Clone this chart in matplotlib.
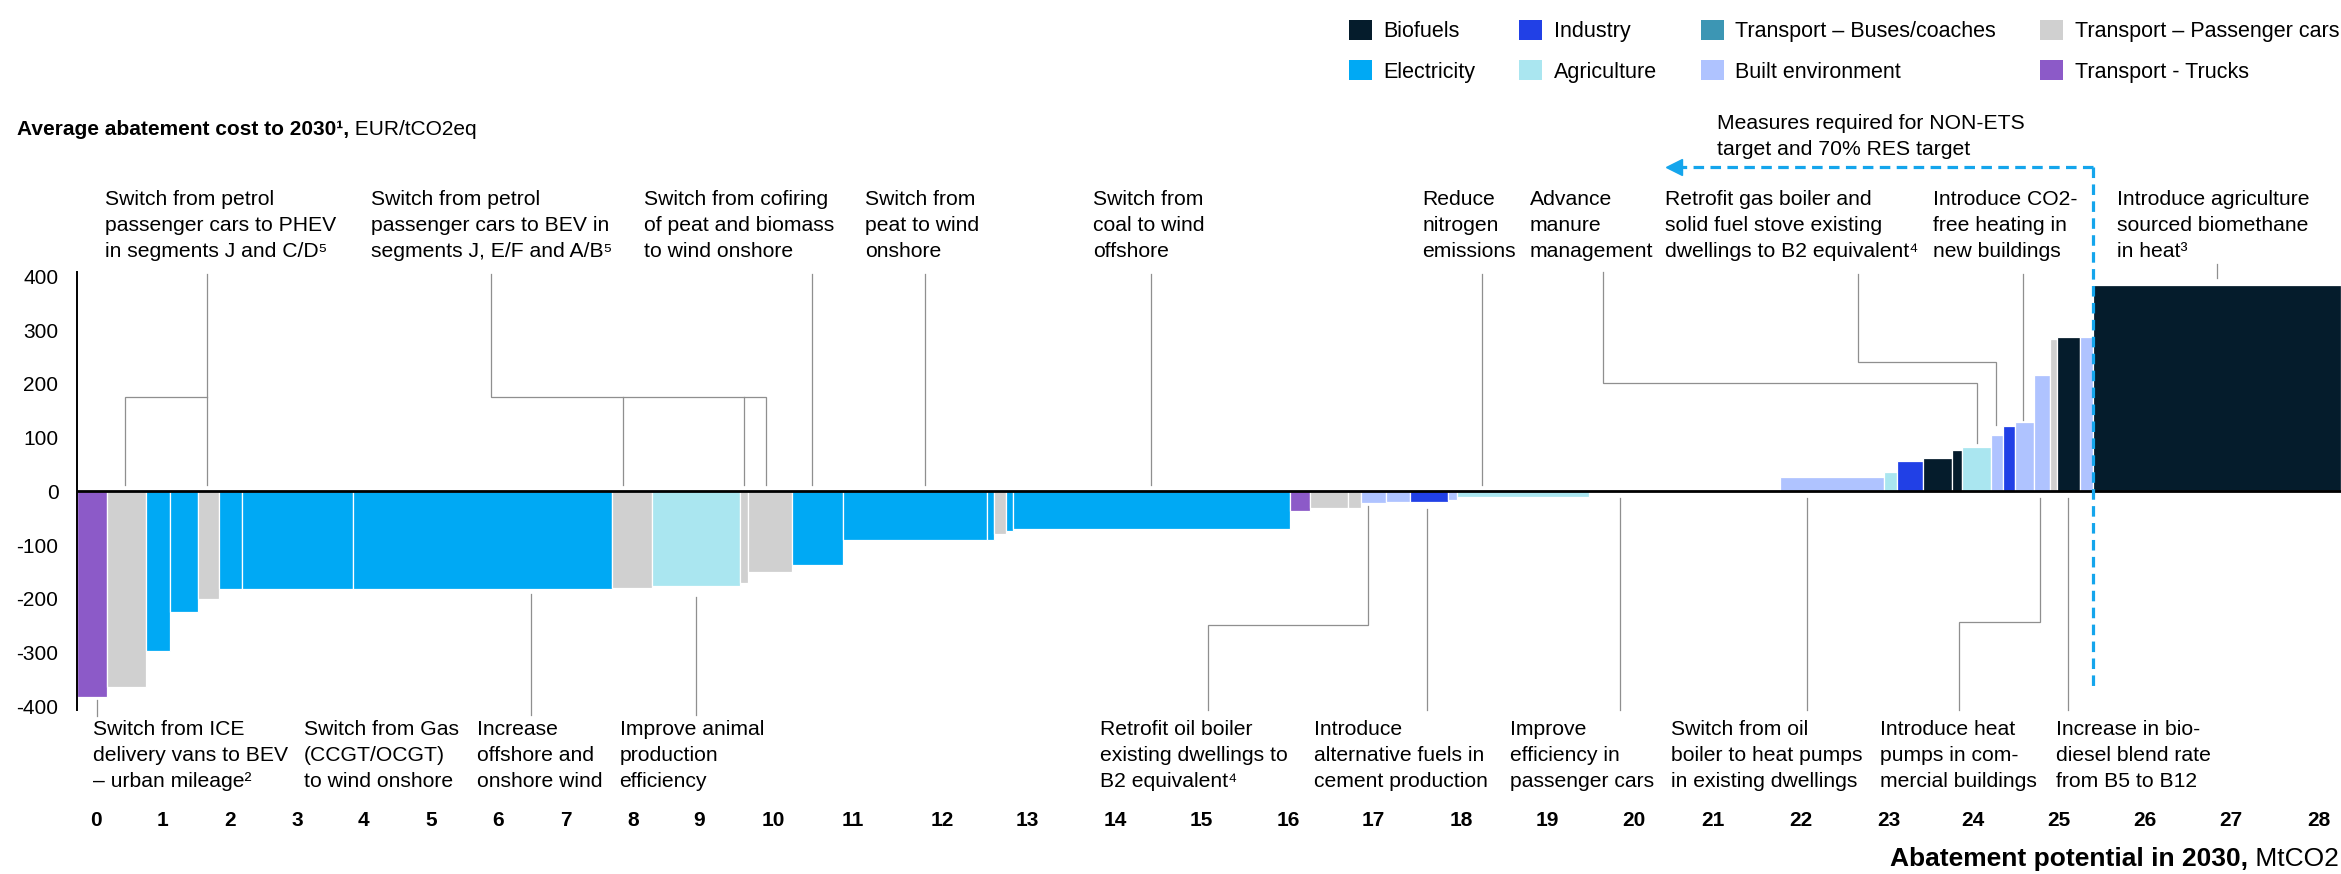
import numpy as np
import matplotlib
matplotlib.use("Agg")
import matplotlib.pyplot as plt
from matplotlib.patches import Patch
from matplotlib.font_manager import FontProperties

FONT = ['Liberation Sans', 'DejaVu Sans']
plt.rcParams['font.family'] = FONT
plt.rcParams['axes.unicode_minus'] = False

# ---------------- data ----------------
sector_names = {
    'BF': 'Biofuels', 'EL': 'Electricity', 'IN': 'Industry', 'AG': 'Agriculture',
    'BU': 'Transport – Buses/coaches', 'BE': 'Built environment',
    'PC': 'Transport – Passenger cars', 'TR': 'Transport - Trucks',
}
sector_colors = {
    'BF': '#051C2C', 'EL': '#00A9F4', 'IN': '#2140E6', 'AG': '#AAE6F0',
    'BU': '#3C96B4', 'BE': '#AFC3FF', 'PC': '#D0D0D0', 'TR': '#8C5AC8',
}
legend_order = ['BF', 'EL', 'IN', 'AG', 'BU', 'BE', 'PC', 'TR']

# abatement potential (MtCO2) of each measure, in cost order
widths = [0.37, 0.50, 0.30, 0.35, 0.26, 0.29, 1.40, 3.26, 0.51, 1.11,
          0.10, 0.55, 0.64, 1.82, 0.08, 0.16, 0.08, 3.50, 0.24, 0.49,
          0.16, 0.31, 0.31, 0.47, 0.12, 1.66, 2.41, 1.31, 0.16, 0.33,
          0.36, 0.13, 0.36, 0.15, 0.16, 0.23, 0.21, 0.08, 0.29, 0.17,
          3.12]
# average abatement cost (EUR/tCO2eq)
costs = [-383, -364, -298, -225, -200, -182, -182, -182, -180, -177,
         -170, -151, -137, -90, -90, -80, -74, -70, -36, -31,
         -31, -22, -20, -20, -16, -10, -1, 26, 37, 57,
         62, 77, 82, 105, 122, 129, 217, 284, 287, 287,
         385]
sectors = ['TR', 'PC', 'EL', 'EL', 'PC', 'EL', 'EL', 'EL', 'PC', 'AG',
           'PC', 'PC', 'EL', 'EL', 'EL', 'PC', 'EL', 'EL', 'TR', 'PC',
           'PC', 'BE', 'BE', 'IN', 'BE', 'AG', 'PC', 'BE', 'AG', 'IN',
           'BF', 'BF', 'AG', 'BE', 'IN', 'BE', 'BE', 'PC', 'BF', 'BE',
           'BF']

xtick_labels = [str(i) for i in range(29)]
xtick_pos = [0.23, 1.08, 1.92, 2.77, 3.61, 4.46, 5.30, 6.15, 7.00, 7.83,
             8.77, 9.77, 10.89, 11.97, 13.07, 14.16, 15.25, 16.32, 17.43, 18.52,
             19.61, 20.60, 21.71, 22.81, 23.88, 24.96, 26.04, 27.12, 28.23]
ytick_vals = [400, 300, 200, 100, 0, -100, -200, -300, -400]

# annotations: (x, text) and leader polylines
top_labels = [
    (0.344, "Switch from petrol\npassenger cars to PHEV\nin segments J and C/D⁵"),
    (3.70, "Switch from petrol\npassenger cars to BEV in\nsegments J, E/F and A/B⁵"),
    (7.14, "Switch from cofiring\nof peat and biomass\nto wind onshore"),
    (9.92, "Switch from\npeat to wind\nonshore"),
    (12.79, "Switch from\ncoal to wind\noffshore"),
    (16.94, "Reduce\nnitrogen\nemissions"),
    (18.29, "Advance\nmanure\nmanagement"),
    (20.00, "Retrofit gas boiler and\nsolid fuel stove existing\ndwellings to B2 equivalent⁴"),
    (23.37, "Introduce CO2-\nfree heating in\nnew buildings"),
    (25.69, "Introduce agriculture\nsourced biomethane\nin heat³"),
]
top_leaders = [
    [(1.64, 405), (1.64, 12)], [(1.64, 176.5), (0.607, 176.5), (0.607, 12)],
    [(5.21, 405), (5.21, 176.5), (8.68, 176.5), (8.68, 12)],
    [(6.88, 176.5), (6.88, 12)], [(8.40, 176.5), (8.40, 12)],
    [(9.25, 405), (9.25, 12)],
    [(10.68, 405), (10.68, 12)],
    [(13.52, 405), (13.52, 12)],
    [(17.69, 405), (17.69, 12)],
    [(19.21, 409), (19.21, 201.5), (23.92, 201.5), (23.92, 90)],
    [(22.43, 405), (22.43, 241.7), (24.16, 241.7), (24.16, 124)],
    [(24.51, 405), (24.51, 133)],
    [(26.95, 423), (26.95, 397)],
]
bottom_labels = [
    (0.193, "Switch from ICE\ndelivery vans to BEV\n– urban mileage²"),
    (2.85, "Switch from Gas\n(CCGT/OCGT)\nto wind onshore"),
    (5.03, "Increase\noffshore and\nonshore wind"),
    (6.83, "Improve animal\nproduction\nefficiency"),
    (12.88, "Retrofit oil boiler\nexisting dwellings to\nB2 equivalent⁴"),
    (15.58, "Introduce\nalternative fuels in\ncement production"),
    (18.04, "Improve\nefficiency in\npassenger cars"),
    (20.07, "Switch from oil\nboiler to heat pumps\nin existing dwellings"),
    (22.71, "Introduce heat\npumps in com-\nmercial buildings"),
    (24.92, "Increase in bio-\ndiesel blend rate\nfrom B5 to B12"),
]
bottom_leaders = [
    [(0.249, -388), (0.249, -418)],
    [(5.71, -191), (5.71, -416)],
    [(7.79, -196), (7.79, -416)],
    [(14.24, -407), (14.24, -248.6), (16.25, -248.6), (16.25, -28)],
    [(17.00, -407), (17.00, -33)],
    [(19.43, -407), (19.43, -11.5)],
    [(21.78, -407), (21.78, -11.5)],
    [(23.70, -407), (23.70, -242.5), (24.72, -242.5), (24.72, -12.7)],
    [(25.07, -407), (25.07, -12.7)],
]

# ---------------- figure ----------------
W_PX, H_PX = 2341, 874
fig = plt.figure(figsize=(W_PX / 100, H_PX / 100), dpi=100)
ax_l, ax_r, ax_top, ax_bot = 77.2, 2341, 271.7, 710
ax = fig.add_axes([ax_l / W_PX, 1 - ax_bot / H_PX,
                   (ax_r - ax_l) / W_PX, (ax_bot - ax_top) / H_PX])

lefts = np.concatenate([[0.0], np.cumsum(widths)[:-1]])
ax.bar(lefts, costs, width=widths, align='edge',
       color=[sector_colors[s] for s in sectors],
       edgecolor='white', linewidth=0.9, zorder=2)
ax.axhline(0, color='black', lw=2.0, zorder=4)
ax.set_xlim(0, float(np.sum(widths)))
ax.set_ylim(-407, 409)
for s in ['top', 'right', 'bottom']:
    ax.spines[s].set_visible(False)
ax.spines['left'].set_linewidth(1.4)
ax.spines['left'].set_zorder(5)

ax.set_yticks(ytick_vals, labels=[str(v) for v in ytick_vals])
ax.set_xticks(xtick_pos, labels=xtick_labels)
ax.tick_params(axis='y', length=0, pad=13.5, labelsize=15)
ax.tick_params(axis='x', length=0, pad=73, labelsize=15)
for lab in ax.get_xticklabels():
    lab.set_fontweight('bold')

# line spacing so that consecutive lines are ~25 px apart
renderer = fig.canvas.get_renderer()
fp = FontProperties(family=FONT, size=15.2)
_, lp_h, lp_d = renderer.get_text_width_height_descent("lp", fp, ismath=False)
LS = 0.86 * 25.5 / (lp_h - lp_d)

LEADER = '#8f8f8f'
# y given for the baseline of the last line of each 3-line label
for x, txt in top_labels:
    ax.text(x, 437, txt, fontsize=15.2, ha='left', va='baseline',
            linespacing=LS, clip_on=False)
for x, txt in bottom_labels:
    ax.text(x, -550, txt, fontsize=15.2, ha='left', va='baseline',
            linespacing=LS, clip_on=False)
for pts in top_leaders + bottom_leaders:
    xs, ys = zip(*pts)
    ax.plot(xs, ys, color=LEADER, lw=0.9, clip_on=False, zorder=1,
            solid_joinstyle='miter')

# NON-ETS target marker
DASH = '#14A5EC'
x_dash = float(np.sum(widths[:-1]))
ax.plot([x_dash, x_dash], [604, -364], color=DASH, lw=2.3, dashes=(3.3, 2),
        clip_on=False, zorder=6)
ax.plot([x_dash, 20.2], [604, 604], color=DASH, lw=2.3, dashes=(3.3, 2),
        clip_on=False, zorder=6)
ax.plot([20.11], [604], marker='<', ms=11, color=DASH, mec=DASH,
        clip_on=False, zorder=6)
ax.text(20.65, 626, "Measures required for NON-ETS\ntarget and 70% RES target",
        fontsize=15.2, ha='left', va='baseline', linespacing=LS, clip_on=False)

# titles
t1 = fig.text(16.7 / W_PX, 1 - 135 / H_PX, "Average abatement cost to 2030¹,",
              fontsize=15, fontweight='bold', va='baseline', ha='left')
ax.annotate(" EUR/tCO2eq", xy=(1, 0), xycoords=t1, va='bottom', ha='left',
            fontsize=15, annotation_clip=False)
t3 = fig.text(2339 / W_PX, 1 - 866 / H_PX, " MtCO2", fontsize=19,
              va='baseline', ha='right')
ax.annotate("Abatement potential in 2030,", xy=(0, 0), xycoords=t3,
            va='bottom', ha='right', fontsize=19, fontweight='bold',
            annotation_clip=False)

# legend
handles = [Patch(facecolor=sector_colors[k], edgecolor='none',
                 label=sector_names[k]) for k in legend_order]
fig.legend(handles=handles, ncol=4, loc='upper left',
           bbox_to_anchor=(1348.5 / W_PX, 1 - 19.5 / H_PX),
           frameon=False, fontsize=15.5, handlelength=1.07, handleheight=1.07,
           handletextpad=0.53, columnspacing=2.05, labelspacing=0.84,
           borderpad=0, borderaxespad=0)

fig.savefig("out.png", dpi=100)
